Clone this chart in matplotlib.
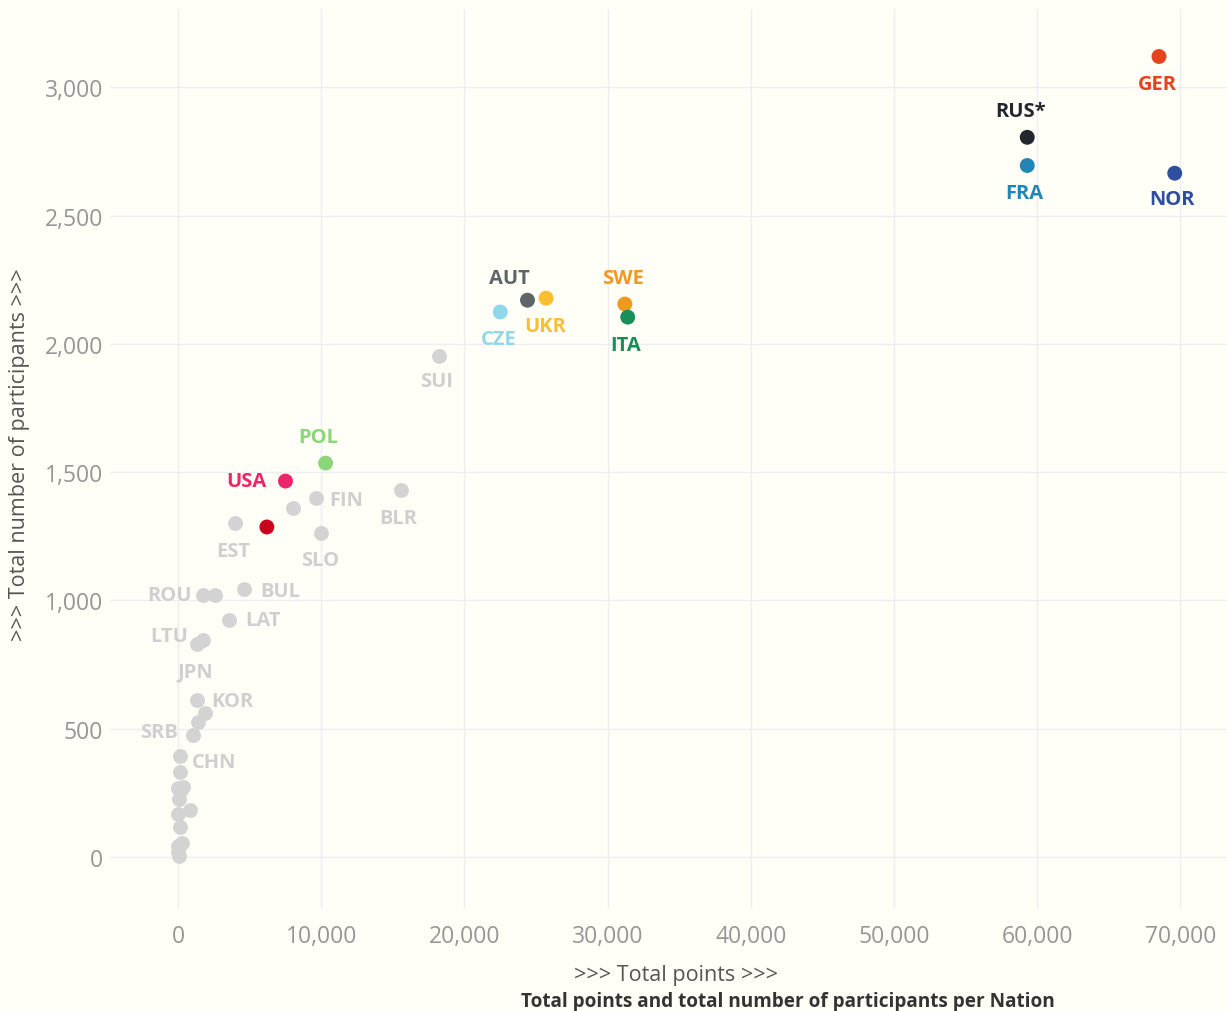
import matplotlib.pyplot as plt
from matplotlib.ticker import FuncFormatter

# ===============================
# Data: total points vs total participants per nation
# ===============================
nations = ["GER", "RUS*", "FRA", "NOR", "AUT", "UKR", "CZE", "SWE", "ITA",
            "POL", "USA", "CAN"]
points = [68500, 59300, 59300, 69600, 24400, 25700, 22500, 31200, 31400,
          10300, 7500, 6200]
participants = [3120, 2805, 2695, 2665, 2170, 2178, 2124, 2155, 2104,
                1535, 1465, 1286]

gray_names = ["SUI", "FIN", "", "BLR", "EST", "SLO", "BUL", "ROU", "",
              "LAT", "LTU", "", "KOR", "", "", "SRB", "CHN", "", "", "",
              "", "", "", "", "", "", "", "", ""]
gray_points = [18200, 9600, 8000, 15600, 4000, 10000, 4600, 1750, 2600,
               3550, 1750, 1300, 1300, 1900, 1400, 1050, 100, 100, 350, 0,
               50, 800, 0, 100, 300, 0, 0, 200, 50]
gray_participants = [1952, 1399, 1360, 1430, 1302, 1263, 1044, 1021, 1021,
                     924, 846, 830, 612, 561, 526, 475, 394, 331, 273, 270,
                     226, 183, 168, 117, 55, 43, 20, 260, 4]

# ===============================
# Styles and label placement (pixels)
# ===============================
colors = {"GER": "#e5431d", "RUS*": "#23262d", "FRA": "#2286b4",
          "NOR": "#2e4e9f", "AUT": "#5e6468", "UKR": "#fbbd31",
          "CZE": "#90d7ea", "SWE": "#f1991f", "ITA": "#1a8e59",
          "POL": "#8bd67b", "USA": "#ef256c", "CAN": "#c8001d"}
offsets = {"GER": (-2, -28), "RUS*": (-7, 26), "FRA": (-3, -27),
           "NOR": (-3, -26), "AUT": (-18, 22), "UKR": (-1, -28),
           "CZE": (-2, -27), "SWE": (-2, 26), "ITA": (-2, -28),
           "POL": (-7, 26), "USA": (-39, 0), "SUI": (-2, -25),
           "FIN": (31, -2), "BLR": (-3, -28), "EST": (-2, -28),
           "SLO": (-1, -27), "BUL": (36, -2), "ROU": (-34, 0),
           "LAT": (34, 0), "LTU": (-34, 4), "KOR": (36, -1),
           "SRB": (-34, 3), "CHN": (35, -6)}
label_gray = "#cfcfcf"

plt.rcParams["font.family"] = ["Open Sans", "DejaVu Sans"]
fig = plt.figure(figsize=(12.27, 10.12), dpi=100, facecolor="#fffef7")
ax = fig.add_axes([0.0897, 0.1008, 0.9103, 0.8893])
ax.set_facecolor("#fffef7")

ax.scatter(gray_points, gray_participants, s=115, color="#d3d3d3",
           linewidths=0, zorder=3)
ax.scatter(points, participants, s=115, c=[colors[n] for n in nations],
           linewidths=0, zorder=4)

for n, x, y in zip(gray_names, gray_points, gray_participants):
    if n:
        ax.annotate(n, (x, y), xytext=offsets[n], textcoords="offset pixels",
                    ha="center", va="center", fontsize=14.5,
                    fontweight="bold", color=label_gray)
ax.annotate("JPN", (1750, 846), xytext=(-8, -32), textcoords="offset pixels",
            ha="center", va="center", fontsize=14.5, fontweight="bold",
            color=label_gray)
for n, x, y in zip(nations, points, participants):
    if n in offsets:
        ax.annotate(n, (x, y), xytext=offsets[n], textcoords="offset pixels",
                    ha="center", va="center", fontsize=14.5,
                    fontweight="bold", color=colors[n])

ax.set_xlim(-4750, 73250)
ax.set_ylim(-203, 3305)
ax.set_xticks(range(0, 70001, 10000))
ax.set_yticks(range(0, 3001, 500))
fmt = FuncFormatter(lambda v, p: f"{int(v):,}")
ax.xaxis.set_major_formatter(fmt)
ax.yaxis.set_major_formatter(fmt)
ax.tick_params(length=0, labelsize=16.5, colors="#969696", pad=11)
ax.tick_params(axis="y", pad=5)
ax.grid(color="#eeeef2", linewidth=1)
ax.set_axisbelow(True)
for s in ax.spines.values():
    s.set_visible(False)

fig.text(0.016, 0.551, ">>> Total number of participants >>>", rotation=90,
         ha="center", va="center", fontsize=15.5, color="#555555")
fig.text(0.551, 0.036, ">>> Total points >>>", ha="center", va="center",
         fontsize=15.5, color="#555555")
fig.text(0.642, 0.010, "Total points and total number of participants per Nation",
         ha="center", va="center", fontsize=13.7, fontweight="bold",
         color="#333333")

plt.savefig("out.png", facecolor=fig.get_facecolor())
plt.close()
